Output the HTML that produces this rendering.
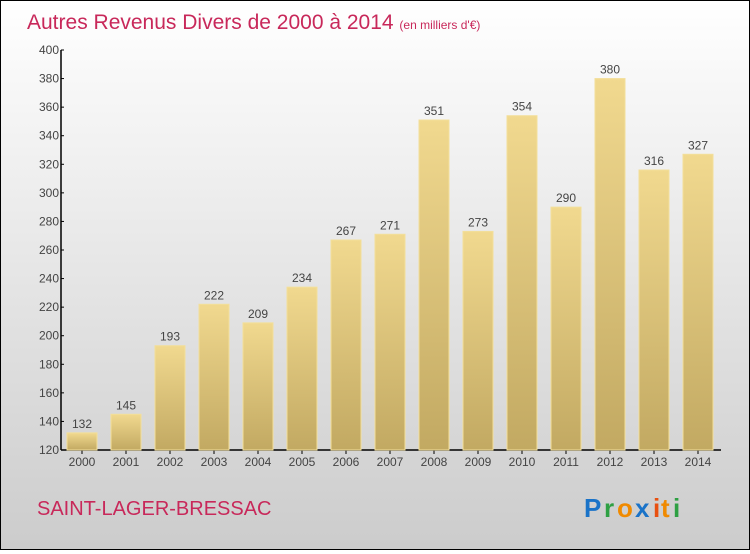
<!DOCTYPE html>
<html><head><meta charset="utf-8"><style>
html,body{margin:0;padding:0}
body{width:750px;height:550px;overflow:hidden;font-family:"Liberation Sans",sans-serif}
#wrap{position:relative;width:748px;height:548px;border:1px solid #000;background:linear-gradient(#ffffff,#cccccc)}
</style></head><body>
<div id="wrap">
<svg id="chart" width="748" height="548">
<defs><linearGradient id="bg" x1="0" y1="0" x2="0" y2="1"><stop offset="0" stop-color="#f1d98f"/><stop offset="1" stop-color="#c2a962"/></linearGradient></defs>
<text x="26" y="28" font-size="21" fill="#c8285a">Autres Revenus Divers de 2000 à 2014 <tspan font-size="12">(en milliers d'€)</tspan></text>
<text x="36" y="514" font-size="20" fill="#c8285a">SAINT-LAGER-BRESSAC</text>
<g font-size="26" font-weight="bold">
<text x="583" y="516" fill="#1a73c8">P</text><text x="603" y="516" fill="#2ea043">r</text><text x="616" y="516" fill="#f08a00">o</text><text x="634" y="516" fill="#1a73c8">x</text><text x="652" y="516" fill="#e85010">i</text><text x="660" y="516" fill="#f08a00">t</text><text x="672" y="516" fill="#2ea043">i</text></g>
<g id="axes"></g><g id="bars"></g>
</svg></div>
<script>
const years=["2000","2001","2002","2003","2004","2005","2006","2007","2008","2009","2010","2011","2012","2013","2014"];
const values=[132,145,193,222,209,234,267,271,351,273,354,290,380,316,327];
const ticks=[120,140,160,180,200,220,240,260,280,300,320,340,360,380,400];
const NS="http://www.w3.org/2000/svg";
const x0=60,y0=449,yTop=49,vMin=120,vMax=400,step=44,bw=30;
const y=v=>y0-(v-vMin)/(vMax-vMin)*(y0-yTop);
const xc=i=>x0+21+i*step;
function mk(t,a,p){const e=document.createElementNS(NS,t);for(const k in a)e.setAttribute(k,a[k]);p.appendChild(e);return e;}
const ax=document.getElementById('axes'),bs=document.getElementById('bars');
const yl=mk('line',{x1:x0,y1:yTop,x2:x0,y2:y0,stroke:'#000','stroke-width':1.5},ax);


const xl=mk('line',{x1:x0,y1:y0,x2:720,y2:y0,stroke:'#000','stroke-width':1.5},ax);


ticks.forEach(v=>{
 mk('line',{x1:x0,y1:y(v),x2:x0+3,y2:y(v),stroke:'#000'},ax);
 const t=mk('text',{x:x0-2,y:y(v)+4,'font-size':12,fill:'#444','text-anchor':'end'},ax);
 t.textContent=v;
 
 
});
values.forEach((v,i)=>{
 const r=mk('rect',{x:xc(i)-bw/2,y:y(v),width:bw,height:y0-y(v),fill:'url(#bg)',stroke:'#f3df9a','stroke-width':1},bs);
 
 
 const l=mk('text',{x:xc(i),y:y(v)-5,'font-size':12,fill:'#444','text-anchor':'middle'},bs);
 l.textContent=v;
 
 
 mk('line',{x1:xc(i),y1:y0,x2:xc(i),y2:y0+4,stroke:'#000'},ax);
 const xt=mk('text',{x:xc(i),y:y0+16,'font-size':12,fill:'#444','text-anchor':'middle'},ax);
 xt.textContent=years[i];
 
 
});
</script>
</body></html>
